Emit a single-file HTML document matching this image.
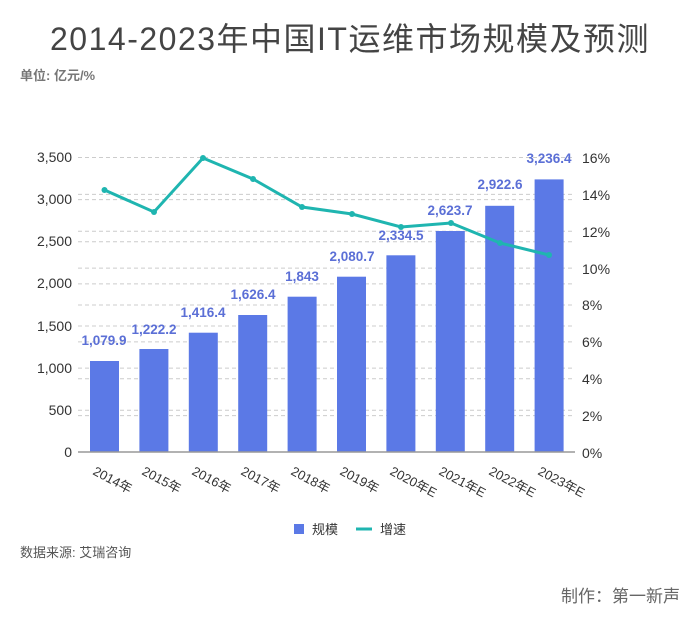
<!DOCTYPE html>
<html><head><meta charset="utf-8"><style>
body{margin:0;background:#fff;width:700px;height:627px;overflow:hidden;font-family:"Liberation Sans","Noto Sans CJK SC",sans-serif}
</style></head><body>
<svg width="700" height="627" xmlns="http://www.w3.org/2000/svg" font-family="Liberation Sans, Noto Sans CJK SC, sans-serif">
<text x="350" y="50" text-anchor="middle" font-size="32" letter-spacing="1.5" fill="#444">2014-2023年中国IT运维市场规模及预测</text>
<text x="20" y="80" font-size="13" font-weight="bold" fill="#777">单位: 亿元/%</text>
<g stroke="#ccc" stroke-dasharray="4,3" stroke-width="1">
<line x1="78" x2="575" y1="157.5" y2="157.5"/><line x1="78" x2="575" y1="199.6" y2="199.6"/><line x1="78" x2="575" y1="241.7" y2="241.7"/><line x1="78" x2="575" y1="283.9" y2="283.9"/><line x1="78" x2="575" y1="326" y2="326"/><line x1="78" x2="575" y1="368.1" y2="368.1"/><line x1="78" x2="575" y1="410.3" y2="410.3"/>
<line x1="78" x2="575" y1="194.4" y2="194.4"/><line x1="78" x2="575" y1="231.2" y2="231.2"/><line x1="78" x2="575" y1="268.1" y2="268.1"/><line x1="78" x2="575" y1="305" y2="305"/><line x1="78" x2="575" y1="341.9" y2="341.9"/><line x1="78" x2="575" y1="378.8" y2="378.8"/><line x1="78" x2="575" y1="415.6" y2="415.6"/>
</g>
<g font-size="14" fill="#333" text-anchor="end">
<text x="72" y="162">3,500</text><text x="72" y="204">3,000</text><text x="72" y="246">2,500</text><text x="72" y="288">2,000</text><text x="72" y="331">1,500</text><text x="72" y="373">1,000</text><text x="72" y="415">500</text><text x="72" y="457">0</text>
</g>
<g font-size="14" fill="#333">
<text x="582" y="163">16%</text><text x="582" y="200">14%</text><text x="582" y="237">12%</text><text x="582" y="274">10%</text><text x="582" y="310">8%</text><text x="582" y="347">6%</text><text x="582" y="384">4%</text><text x="582" y="421">2%</text><text x="582" y="458">0%</text>
</g>
<g fill="#5b79e6">
<rect x="90" y="361" width="29" height="91"/>
<rect x="139.4" y="349" width="29" height="103"/>
<rect x="188.8" y="332.7" width="29" height="119.3"/>
<rect x="238.2" y="315" width="29" height="137"/>
<rect x="287.6" y="296.7" width="29" height="155.3"/>
<rect x="337" y="276.7" width="29" height="175.3"/>
<rect x="386.4" y="255.3" width="29" height="196.7"/>
<rect x="435.8" y="231" width="29" height="221"/>
<rect x="485.2" y="205.8" width="29" height="246.2"/>
<rect x="534.6" y="179.4" width="29" height="272.6"/>
</g>
<line x1="78" x2="575" y1="452" y2="452" stroke="#999" stroke-width="1.5"/>
<g font-size="13.5" font-weight="bold" fill="#5b6fd6" text-anchor="middle">
<text x="104" y="345">1,079.9</text><text x="154" y="334">1,222.2</text><text x="203" y="317">1,416.4</text><text x="253" y="299">1,626.4</text><text x="302" y="281">1,843</text><text x="352" y="261">2,080.7</text><text x="401" y="240">2,334.5</text><text x="450" y="215">2,623.7</text><text x="500" y="189">2,922.6</text><text x="549" y="163">3,236.4</text>
</g>
<polyline fill="none" stroke="#1fb5b0" stroke-width="3" points="104.5,190 154,212 203,158 253,179 302,207 352,214 401,227 451,223 500,243 549,255"/>
<g fill="#1fb5b0"><circle cx="104.5" cy="190" r="3"/><circle cx="154" cy="212" r="3"/><circle cx="203" cy="158" r="3"/><circle cx="253" cy="179" r="3"/><circle cx="302" cy="207" r="3"/><circle cx="352" cy="214" r="3"/><circle cx="401" cy="227" r="3"/><circle cx="451" cy="223" r="3"/><circle cx="500" cy="243" r="3"/><circle cx="549" cy="255" r="3"/></g>
<g font-size="13" fill="#333">
<text transform="translate(92,474) rotate(28)">2014年</text>
<text transform="translate(141,474) rotate(28)">2015年</text>
<text transform="translate(191,474) rotate(28)">2016年</text>
<text transform="translate(240,474) rotate(28)">2017年</text>
<text transform="translate(290,474) rotate(28)">2018年</text>
<text transform="translate(339,474) rotate(28)">2019年</text>
<text transform="translate(389,474) rotate(28)">2020年E</text>
<text transform="translate(438,474) rotate(28)">2021年E</text>
<text transform="translate(488,474) rotate(28)">2022年E</text>
<text transform="translate(537,474) rotate(28)">2023年E</text>
</g>
<rect x="294" y="524" width="10" height="10" fill="#5b79e6"/>
<text x="312" y="534" font-size="13" fill="#333">规模</text>
<line x1="356" x2="372" y1="529" y2="529" stroke="#1fb5b0" stroke-width="3"/>
<text x="380" y="534" font-size="13" fill="#333">增速</text>
<text x="20" y="557" font-size="13" fill="#555">数据来源: 艾瑞咨询</text>
<text x="680" y="602" text-anchor="end" font-size="17" fill="#666">制作：第一新声</text>
</svg>
</body></html>
